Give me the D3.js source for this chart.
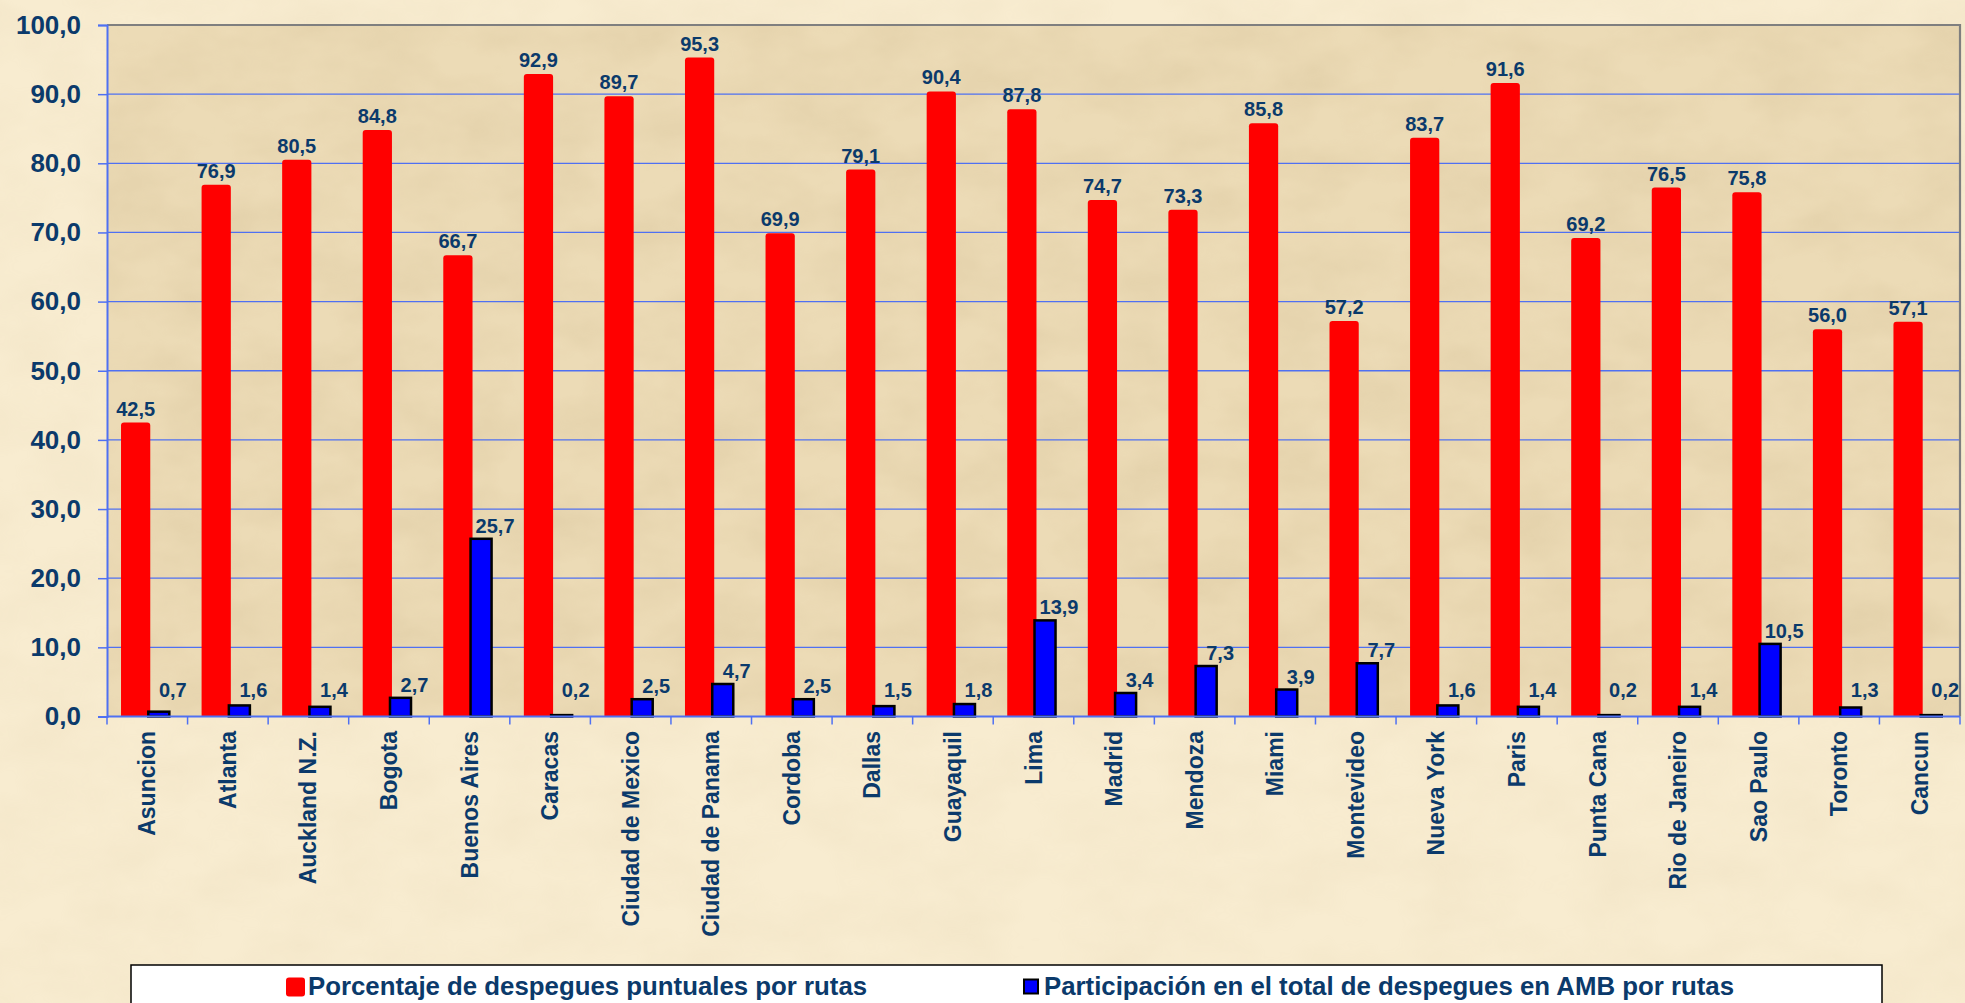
<!DOCTYPE html>
<html>
<head>
<meta charset="utf-8">
<script src="https://cdn.jsdelivr.net/npm/d3@7/dist/d3.min.js"></script>
<style>
  html, body { margin: 0; padding: 0; background: #f8ecd0; }
  svg { display: block; }
  text { font-family: "Liberation Sans", Arial, sans-serif; font-weight: bold; fill: #0b3a6b; }
</style>
</head>
<body>
<svg id="chart" width="1965" height="1003"></svg>
<script>
// routes (categories)
const routes = ["Asuncion", "Atlanta", "Auckland N.Z.", "Bogota", "Buenos Aires", "Caracas",
  "Ciudad de Mexico", "Ciudad de Panama", "Cordoba", "Dallas", "Guayaquil", "Lima", "Madrid",
  "Mendoza", "Miami", "Montevideo", "Nueva York", "Paris", "Punta Cana", "Rio de Janeiro",
  "Sao Paulo", "Toronto", "Cancun"];

// % of punctual departures per route
const puntuales = [42.5, 76.9, 80.5, 84.8, 66.7, 92.9, 89.7, 95.3, 69.9, 79.1, 90.4, 87.8, 74.7,
  73.3, 85.8, 57.2, 83.7, 91.6, 69.2, 76.5, 75.8, 56.0, 57.1];

// share of total AMB departures per route
const participacion = [0.7, 1.6, 1.4, 2.7, 25.7, 0.2, 2.5, 4.7, 2.5, 1.5, 1.8, 13.9, 3.4,
  7.3, 3.9, 7.7, 1.6, 1.4, 0.2, 1.4, 10.5, 1.3, 0.2];

const yTicks = [0, 10, 20, 30, 40, 50, 60, 70, 80, 90, 100];
const seriesNames = ["Porcentaje de despegues puntuales por rutas",
  "Participación en el total de despegues en AMB por rutas"];

const fmt = v => v.toFixed(1).replace(".", ",");

const svg = d3.select("#chart");
const W = 1965, H = 1003;
const pLeft = 107, pRight = 1960, pTop = 25, pBottom = 716.5;

// parchment texture
const defs = svg.append("defs");
const f = defs.append("filter").attr("id", "paper").attr("x", 0).attr("y", 0)
  .attr("width", "100%").attr("height", "100%");
f.append("feTurbulence").attr("type", "fractalNoise").attr("baseFrequency", "0.012 0.02")
  .attr("numOctaves", 4).attr("seed", 7).attr("result", "noise");
f.append("feColorMatrix").attr("in", "noise").attr("type", "matrix")
  .attr("values", "0 0 0 0 0.55  0 0 0 0 0.42  0 0 0 0 0.22  0 0 0 -1.1 0.75");

svg.append("rect").attr("width", W).attr("height", H).attr("fill", "#f8ecd0");
svg.append("rect").attr("width", W).attr("height", H).attr("filter", "url(#paper)").attr("opacity", 0.12);

const x = d3.scaleBand().domain(routes).range([pLeft, pRight]).paddingInner(0).paddingOuter(0);
const y = d3.scaleLinear().domain([0, 100]).range([pBottom, pTop]);
const bw = x.bandwidth();

// plot area
svg.append("rect").attr("x", pLeft).attr("y", pTop).attr("width", pRight - pLeft).attr("height", pBottom - pTop)
  .attr("fill", "#ecdbb6");
svg.append("rect").attr("x", pLeft).attr("y", pTop).attr("width", pRight - pLeft).attr("height", pBottom - pTop)
  .attr("filter", "url(#paper)").attr("opacity", 0.3);

// gridlines
svg.append("g").selectAll("line").data(yTicks.filter(t => t > 0 && t < 100)).join("line")
  .attr("x1", pLeft).attr("x2", pRight).attr("y1", d => y(d)).attr("y2", d => y(d))
  .attr("stroke", "#4f70f2").attr("stroke-width", 1.3);

// plot frame (top / right)
svg.append("path").attr("d", `M${pLeft},${pTop}H${pRight}V${pBottom}`)
  .attr("fill", "none").attr("stroke", "#7f7f7f").attr("stroke-width", 2.2);

// y axis
const yAxis = svg.append("g").attr("transform", `translate(${pLeft},0)`)
  .call(d3.axisLeft(y).tickValues(yTicks).tickSize(9).tickPadding(17).tickFormat(fmt));
yAxis.select(".domain").attr("stroke", "#4f70f2").attr("stroke-width", 2);
yAxis.selectAll(".tick line").attr("stroke", "#4f70f2").attr("stroke-width", 1.5);
yAxis.selectAll(".tick text").attr("font-size", 26).attr("fill", "#0b3a6b")
  .attr("font-family", "Liberation Sans, Arial, sans-serif").attr("font-weight", "bold");

// bars
const redX = i => x(routes[i]) + bw * 0.174;
const redW = bw * 0.363;
const blueX = i => x(routes[i]) + bw * 0.497;
const blueW = bw * 0.292;
const r = 3;

svg.append("g").selectAll("path").data(puntuales).join("path")
  .attr("d", (d, i) => {
    const x0 = redX(i), x1 = x0 + redW, y0 = y(d);
    return `M${x0},${pBottom}V${y0 + r}Q${x0},${y0} ${x0 + r},${y0}H${x1 - r}Q${x1},${y0} ${x1},${y0 + r}V${pBottom}Z`;
  })
  .attr("fill", "#ff0000");

svg.append("g").selectAll("rect").data(participacion).join("rect")
  .attr("x", (d, i) => blueX(i) + 1.25).attr("width", blueW - 2.5)
  .attr("y", d => y(d)).attr("height", d => pBottom - y(d))
  .attr("fill", "#0000ff").attr("stroke", "#000").attr("stroke-width", 2.5);

// x axis
const xAxisG = svg.append("g");
xAxisG.append("line").attr("x1", pLeft).attr("x2", pRight).attr("y1", pBottom).attr("y2", pBottom)
  .attr("stroke", "#4f70f2").attr("stroke-width", 2);
xAxisG.selectAll("line.tk").data(routes.concat(["_end"])).join("line").attr("class", "tk")
  .attr("x1", (d, i) => pLeft + i * bw).attr("x2", (d, i) => pLeft + i * bw)
  .attr("y1", pBottom).attr("y2", pBottom + 8)
  .attr("stroke", "#4f70f2").attr("stroke-width", 1.5);
xAxisG.selectAll("text").data(routes).join("text")
  .attr("transform", d => `translate(${x(d) + bw / 2},731) rotate(-90)`)
  .attr("text-anchor", "end").attr("dy", "0.35em").attr("font-size", 23)
  .text(d => d);

// value labels
svg.append("g").selectAll("text").data(puntuales).join("text")
  .attr("x", (d, i) => redX(i) + redW / 2).attr("y", d => y(d) - 14)
  .attr("dy", "0.35em").attr("text-anchor", "middle").attr("font-size", 20)
  .text(fmt);

svg.append("g").selectAll("text").data(participacion).join("text")
  .attr("x", (d, i) => blueX(i) + blueW / 2 + 14).attr("y", d => Math.min(y(d) - 13, 690))
  .attr("dy", "0.35em").attr("text-anchor", "middle").attr("font-size", 20)
  .text(fmt);

// legend
const lg = svg.append("g");
lg.append("rect").attr("x", 131).attr("y", 965).attr("width", 1751).attr("height", 60)
  .attr("fill", "#ffffff").attr("stroke", "#000").attr("stroke-width", 1.5);
lg.append("rect").attr("x", 286).attr("y", 977.5).attr("width", 19).attr("height", 19).attr("rx", 3)
  .attr("fill", "#ff0000");
lg.append("text").attr("x", 308).attr("y", 995).attr("font-size", 25.8).text(seriesNames[0]);
lg.append("rect").attr("x", 1024).attr("y", 979.5).attr("width", 14).attr("height", 14)
  .attr("fill", "#0000ff").attr("stroke", "#000").attr("stroke-width", 2);
lg.append("text").attr("x", 1044).attr("y", 995).attr("font-size", 25.8).text(seriesNames[1]);
</script>
</body>
</html>
